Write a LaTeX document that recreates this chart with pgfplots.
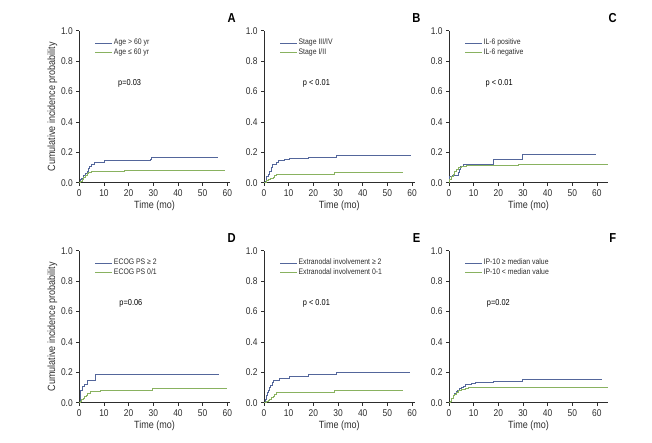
\documentclass[border=0pt]{standalone}
\usepackage{fontspec}
\setmainfont{Liberation Sans}[FakeStretch=0.86]
\usepackage{pgfplots}
\pgfplotsset{compat=1.18}
\definecolor{kmblue}{RGB}{83,102,155}
\definecolor{kmgreen}{RGB}{137,178,96}
\definecolor{axgray}{RGB}{45,45,45}
\pgfplotsset{
  kmaxis/.style={
    scale only axis,
    height=152pt,
    xmin=0, ymin=0, ymax=1,
    axis lines=left,
    axis line style={-, axgray, line width=0.6pt},
    tick style={axgray, line width=0.6pt},
    tick align=outside,
    major tick length=3pt,
    xtick={0,10,20,30,40,50,60},
    ytick={0,0.2,0.4,0.6,0.8,1.0},
    yticklabel style={/pgf/number format/.cd, fixed, fixed zerofill, precision=1},
    /pgf/number format/assume math mode=true,
    tick label style={font=\fontsize{9.8}{11}\selectfont, text=axgray},
    label style={font=\fontsize{10.5}{12}\selectfont, text=axgray},
    xlabel={Time (mo)},
    xlabel style={yshift=2pt},
    ylabel style={yshift=-3pt},
    clip=false,
    legend cell align=left,
    legend style={draw=none, fill=none, anchor=north west, at={(axis cs:6.3,0.95)},
      font=\fontsize{8}{9}\selectfont, text=axgray,
      inner sep=0pt, row sep=0.3pt,
      nodes={inner sep=1pt, text height=5.5pt, text depth=1.5pt},
      /tikz/every even column/.style={column sep=2.5pt}},
    legend image code/.code={\draw[##1] (0pt,0pt) -- (17pt,0pt);},
  },
  bl/.style={kmblue, line width=0.9pt, const plot, mark=none},
  gr/.style={kmgreen, line width=0.9pt, const plot, mark=none},
}
\newcommand{\pval}[2]{\node[anchor=west, font=\fontsize{8.6}{10}\selectfont, text=black, inner sep=0pt] at (axis cs:#1,0.655) {#2};}
\newcommand{\plabel}[2]{\node[font=\fontsize{13}{15}\selectfont\bfseries, inner sep=0pt] at (axis cs:#1,1.083) {#2};}
\begin{document}
\begin{tikzpicture}
\useasboundingbox (0,0) rectangle (652pt,443pt);
% ---------------- A
\begin{axis}[kmaxis, at={(79.3pt,260.3pt)}, anchor=south west, width=150.5pt, xmax=61,
  ylabel={Cumulative incidence probability}]
\addplot[bl] coordinates {(0,0)(0.3,0.02)(1.0,0.03)(1.8,0.045)(2.5,0.06)(3.1,0.075)(3.6,0.095)(4.1,0.11)(5.0,0.122)(6.3,0.13)(8.0,0.136)(10.3,0.145)(28.8,0.155)(29.4,0.168)(56.2,0.168)};
\addlegendentry{Age > 60 yr}
\addplot[gr] coordinates {(0,0)(0.5,0.01)(1.1,0.02)(1.8,0.035)(2.4,0.05)(3.2,0.06)(3.8,0.066)(5.0,0.072)(6.0,0.075)(18.2,0.079)(59.2,0.079)};
\addlegendentry{Age ≤ 60 yr}
\pval{15.7}{p=0.03}
\plabel{61.8}{A}
\end{axis}
% ---------------- B
\begin{axis}[kmaxis, at={(264pt,260.3pt)}, anchor=south west, width=150.5pt, xmax=61]
\addplot[bl] coordinates {(0,0)(0.4,0.01)(1.1,0.04)(1.8,0.055)(2.4,0.075)(3.0,0.1)(3.5,0.123)(5.1,0.13)(6.0,0.145)(8.2,0.155)(10.4,0.16)(18.0,0.166)(29.5,0.177)(59.5,0.177)};
\addlegendentry{Stage III/IV}
\addplot[gr] coordinates {(0,0)(0.8,0.012)(1.8,0.022)(2.5,0.03)(3.8,0.035)(4.4,0.045)(4.9,0.057)(28.4,0.065)(56.5,0.065)};
\addlegendentry{Stage I/II}
\pval{15.7}{p < 0.01}
\plabel{61.8}{B}
\end{axis}
% ---------------- C
\begin{axis}[kmaxis, at={(449pt,260.3pt)}, anchor=south west, width=159pt, xmax=64.5]
\addplot[bl] coordinates {(0,0)(0.3,0.04)(1.2,0.045)(3.1,0.05)(3.8,0.066)(4.3,0.09)(4.6,0.105)(5.8,0.123)(18.0,0.155)(29.6,0.189)(59.7,0.189)};
\addlegendentry{IL-6 positive}
\addplot[gr] coordinates {(0,0)(0.3,0.02)(0.9,0.04)(1.6,0.055)(2.4,0.072)(3.2,0.088)(3.8,0.1)(5.1,0.108)(7.2,0.115)(28.2,0.121)(64.5,0.121)};
\addlegendentry{IL-6 negative}
\pval{14.8}{p < 0.01}
\plabel{66.4}{C}
\end{axis}
% ---------------- D
\begin{axis}[kmaxis, at={(79.3pt,40.3pt)}, anchor=south west, width=150.5pt, xmax=61,
  ylabel={Cumulative incidence probability}]
\addplot[bl] coordinates {(0,0)(0.3,0.083)(1.35,0.105)(2.2,0.123)(3.1,0.145)(6.5,0.186)(56.5,0.186)};
\addlegendentry{ECOG PS ≥ 2}
\addplot[gr] coordinates {(0,0)(0.5,0.01)(1.0,0.02)(1.6,0.03)(2.2,0.04)(2.8,0.05)(3.4,0.06)(4.5,0.072)(6.5,0.077)(8.5,0.083)(29.5,0.096)(59.9,0.096)};
\addlegendentry{ECOG PS 0/1}
\pval{16.2}{p=0.06}
\plabel{61.8}{D}
\end{axis}
% ---------------- E
\begin{axis}[kmaxis, at={(264pt,40.3pt)}, anchor=south west, width=150.5pt, xmax=61]
\addplot[bl] coordinates {(0,0)(0.4,0.02)(0.8,0.05)(1.3,0.07)(1.8,0.083)(2.3,0.1)(2.7,0.116)(3.3,0.13)(3.8,0.145)(6.2,0.16)(10.5,0.171)(18.0,0.184)(29.5,0.202)(59.2,0.202)};
\addlegendentry{Extranodal involvement ≥ 2}
\addplot[gr] coordinates {(0,0)(1.1,0.007)(1.8,0.015)(2.4,0.022)(3.1,0.033)(3.8,0.044)(4.4,0.055)(4.9,0.066)(7.5,0.07)(28.4,0.079)(56.2,0.079)};
\addlegendentry{Extranodal involvement 0-1}
\pval{15.7}{p < 0.01}
\plabel{61.8}{E}
\end{axis}
% ---------------- F
\begin{axis}[kmaxis, at={(449pt,40.3pt)}, anchor=south west, width=159pt, xmax=64.5]
\addplot[bl] coordinates {(0,0)(0.4,0.01)(1.1,0.03)(1.8,0.045)(2.4,0.06)(3.0,0.072)(3.5,0.083)(4.2,0.092)(4.9,0.1)(5.8,0.105)(6.5,0.123)(9.2,0.127)(10.9,0.131)(18.0,0.138)(28.9,0.143)(29.6,0.156)(62.2,0.156)};
\addlegendentry{IP-10 ≥ median value}
\addplot[gr] coordinates {(0,0)(0.4,0.01)(1.1,0.03)(1.8,0.045)(2.4,0.057)(3.1,0.068)(3.8,0.079)(5.1,0.088)(6.5,0.096)(7.9,0.1)(64.5,0.1)};
\addlegendentry{IP-10 < median value}
\pval{15.3}{p=0.02}
\plabel{66.4}{F}
\end{axis}
\end{tikzpicture}
\end{document}
